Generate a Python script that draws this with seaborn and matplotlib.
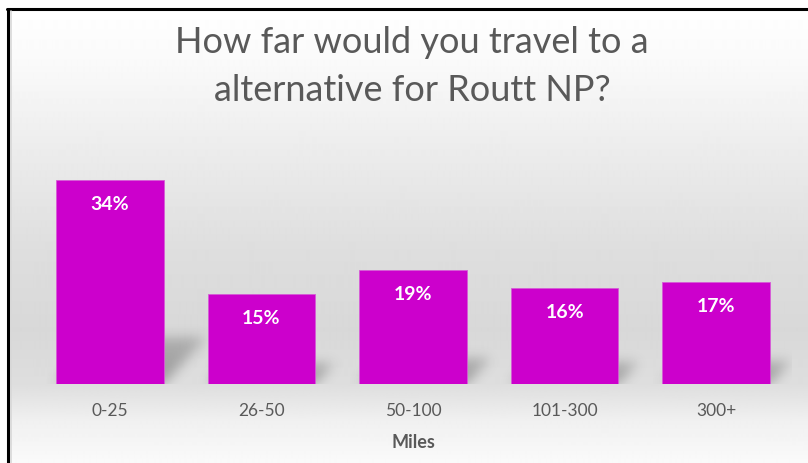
import numpy as np
import pandas as pd
import matplotlib
matplotlib.use("Agg")
import matplotlib.pyplot as plt
import seaborn as sns
from matplotlib.patches import Rectangle
from matplotlib.lines import Line2D
from matplotlib.colors import to_rgb

# data
categories = ['0-25', '26-50', '50-100', '101-300', '300+']
percents = [34, 15, 19, 16, 17]
value_labels = ['34%', '15%', '19%', '16%', '17%']
title = 'How far would you travel to a\nalternative for Routt NP?'
x_title = 'Miles'

W, H = 808, 463
TEXT_GRAY = '#595959'
BAR_COLOR = '#CC00CC'

sns.set_theme(style='white')
plt.rcParams['font.family'] = ['Lato', 'DejaVu Sans']

fig = plt.figure(figsize=(W / 100, H / 100), dpi=100)

# vertical gray gradient behind the chart area
bg = fig.add_axes([0, 0, 1, 1], zorder=0)
stops_y = np.array([0, 10, 60, 150, 250, 330, 384, 420, 463])
stops_v = np.array([255, 255, 250, 236, 222, 216, 222, 240, 250]) / 255
col = np.interp(np.arange(H), stops_y, stops_v)
bg.imshow(np.repeat(col[:, None], 2, axis=1), cmap='gray', vmin=0, vmax=1,
          aspect='auto', extent=[0, 1, 0, 1], interpolation='bilinear')
bg.set_xlim(0, 1)
bg.set_ylim(0, 1)
bg.axis('off')
bg.add_patch(Rectangle((0, 0), 7 / W, 1, color='white', zorder=2))
bg.add_patch(Rectangle((0, 1 - 8 / H), 1, 8 / H, color='white', zorder=2))

# bar chart
AX_W, AX_H = 758, 240
ax = fig.add_axes([34 / W, 79 / H, AX_W / W, AX_H / H], zorder=1)
ax.patch.set_alpha(0)
df = pd.DataFrame({'Miles': categories, 'Percent': percents})
sns.barplot(data=df, x='Miles', y='Percent', color=BAR_COLOR, saturation=1,
            width=0.71, edgecolor='#d65cd6', linewidth=0.6, ax=ax, zorder=3)
xlim, ylim = (-0.5, 4.5), (0, 40)
ax.set_xlim(*xlim)
ax.set_ylim(*ylim)

# soft cast shadows on the "floor", built from the bar geometry and blurred
px_per_unit = AX_W / (xlim[1] - xlim[0])
px_per_pct = AX_H / (ylim[1] - ylim[0])
gx = xlim[0] + (np.arange(AX_W) + 0.5) / px_per_unit
gy = ylim[1] - (np.arange(AX_H) + 0.5) / px_per_pct   # row 0 = top
XX, YY = np.meshgrid(gx, gy)
mask = np.zeros((AX_H, AX_W))
for p in ax.patches:
    x0, w, h = p.get_x(), p.get_width(), p.get_height()
    dy = 0.23 * h
    dx = 0.21 * h * px_per_pct / px_per_unit
    frac = np.clip(YY / dy, 0, None)
    inside = (YY >= 0) & (YY <= dy) & (XX >= x0 + frac * dx) & (XX <= x0 + w + frac * dx)
    mask = np.maximum(mask, inside * (1 - 0.35 * frac))


def blur(a, sigma):
    k = np.arange(-3 * sigma, 3 * sigma + 1)
    k = np.exp(-0.5 * (k / sigma) ** 2)
    k /= k.sum()
    a = np.apply_along_axis(lambda r: np.convolve(r, k, mode='same'), 1, a)
    return np.apply_along_axis(lambda c: np.convolve(c, k, mode='same'), 0, a)


mask = blur(mask, 6)
shadow = np.zeros((AX_H, AX_W, 4))
shadow[..., :3] = to_rgb('#3c3c3c')
shadow[..., 3] = mask * 0.42
ax.imshow(shadow, extent=[xlim[0], xlim[1], ylim[0], ylim[1]], aspect='auto',
          interpolation='bilinear', zorder=2)
ax.set_xlim(*xlim)
ax.set_ylim(*ylim)

for p, lab in zip(ax.patches, value_labels):
    ax.annotate(lab, (p.get_x() + p.get_width() / 2, p.get_height()), xytext=(0, -18),
                textcoords='offset points', ha='center', va='center', color='white',
                fontweight='bold', fontsize=14, zorder=4)

ax.set_yticks([])
ax.set_ylabel('')
for s in ax.spines.values():
    s.set_visible(False)
ax.tick_params(axis='x', length=0, pad=13.5, labelsize=12.5, labelcolor=TEXT_GRAY)
ax.set_xlabel(x_title, fontsize=13, fontweight='bold', color=TEXT_GRAY, labelpad=11)

# title, two lines
for i, line in enumerate(title.split('\n')):
    fig.text(412 / W, 1 - (53 + 48 * i) / H, line, ha='center', va='baseline',
             fontsize=26, color=TEXT_GRAY, zorder=5)

# frame lines on the top and left edges
fig.add_artist(Line2D([8 / W, 8 / W], [0, 1 - 8.5 / H], color='black', linewidth=2.2))
fig.add_artist(Line2D([7 / W, 1], [1 - 9 / H, 1 - 9 / H], color='black', linewidth=2.2))
fig.add_artist(Line2D([10.5 / W, 10.5 / W], [0, 1 - 11 / H], color='#d8d8d8', linewidth=1.2))

fig.savefig('out.png', dpi=100)
